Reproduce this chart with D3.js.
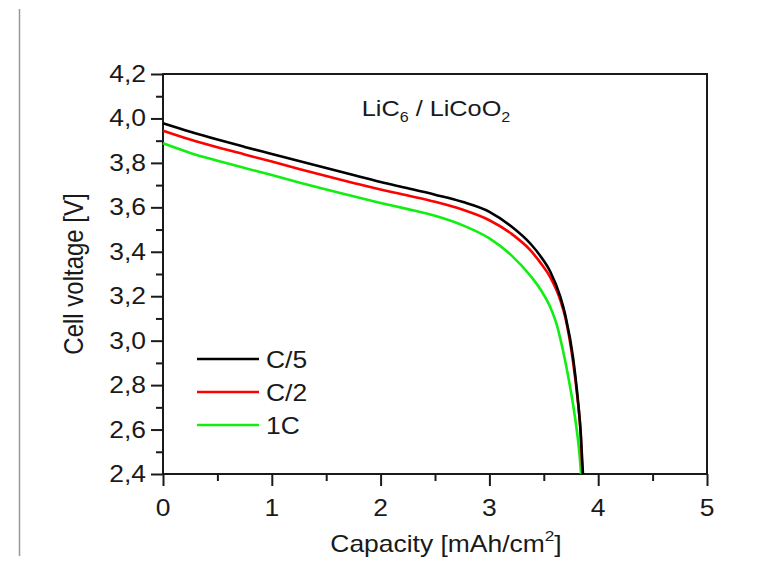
<!DOCTYPE html>
<html lang="en">
<head>
    <meta charset="UTF-8">
    <title>LiC6 / LiCoO2 discharge</title>
    <style>
        body {
            margin: 0;
            padding: 0;
            background-color: #fff;
            font-family: 'Liberation Sans', Arial, sans-serif;
        }
        .axis path, .axis line {
            stroke: #1a1a1a;
            stroke-width: 2px;
        }
        .lbl {
            fill: #1a1a1a;
        }
    </style>
    <script src="https://d3js.org/d3.v7.min.js"></script>
</head>
<body>
<div id="chart"></div>
<script>
    // capacity [mAh/cm2] vs cell voltage [V]
    const capC5 = [0, 0.25, 0.5, 0.75, 1.0, 1.25, 1.5, 1.75, 2.0, 2.25, 2.5, 2.75, 3.0, 3.2, 3.38, 3.47, 3.56, 3.65, 3.7, 3.77, 3.81, 3.84, 3.86];
    const voltC5 = [3.978, 3.94, 3.905, 3.872, 3.84, 3.808, 3.777, 3.745, 3.714, 3.686, 3.657, 3.625, 3.58, 3.515, 3.435, 3.38, 3.31, 3.2, 3.11, 2.92, 2.75, 2.58, 2.4];

    const capC2 = [0, 0.25, 0.5, 0.75, 1.0, 1.25, 1.5, 1.75, 2.0, 2.25, 2.5, 2.75, 3.0, 3.2, 3.38, 3.47, 3.56, 3.65, 3.7, 3.77, 3.81, 3.84, 3.855];
    const voltC2 = [3.945, 3.905, 3.87, 3.838, 3.806, 3.773, 3.741, 3.71, 3.68, 3.653, 3.625, 3.59, 3.542, 3.482, 3.405, 3.35, 3.285, 3.185, 3.1, 2.9, 2.74, 2.57, 2.4];

    const cap1C = [0, 0.25, 0.5, 0.75, 1.0, 1.25, 1.5, 1.75, 2.0, 2.25, 2.5, 2.75, 3.0, 3.2, 3.38, 3.47, 3.56, 3.62, 3.67, 3.72, 3.77, 3.81, 3.83, 3.842];
    const volt1C = [3.888, 3.845, 3.81, 3.777, 3.745, 3.712, 3.68, 3.65, 3.62, 3.592, 3.562, 3.52, 3.46, 3.385, 3.29, 3.23, 3.15, 3.07, 2.97, 2.85, 2.71, 2.57, 2.48, 2.4];

    const seriesNames = ["C/5", "C/2", "1C"];
    const seriesColors = ["#000000", "#ff0000", "#11ee11"];
    const xTicks = [0, 1, 2, 3, 4, 5];
    const yTicks = [2.4, 2.6, 2.8, 3.0, 3.2, 3.4, 3.6, 3.8, 4.0, 4.2];

    const series = [
        {name: seriesNames[0], color: seriesColors[0], pts: capC5.map((c, i) => [c, voltC5[i]])},
        {name: seriesNames[1], color: seriesColors[1], pts: capC2.map((c, i) => [c, voltC2[i]])},
        {name: seriesNames[2], color: seriesColors[2], pts: cap1C.map((c, i) => [c, volt1C[i]])}
    ];

    const width = 776, height = 564;
    const margin = {left: 163, top: 74, right: 69, bottom: 90};
    const w = width - margin.left - margin.right;
    const h = height - margin.top - margin.bottom;
    const fs = 23;       // base font size
    const sx = 1.15;     // the source figure is a bit stretched horizontally

    const svg = d3.select("#chart").append("svg")
        .attr("width", width)
        .attr("height", height);

    // grey rule on the left edge of the page
    svg.append("line")
        .attr("x1", 19.5).attr("x2", 19.5)
        .attr("y1", 9).attr("y2", 556)
        .attr("stroke", "#999")
        .attr("stroke-width", 1.5);

    const g = svg.append("g")
        .attr("transform", "translate(" + margin.left + "," + margin.top + ")");

    const x = d3.scaleLinear().domain([0, 5]).range([0, w]);
    const y = d3.scaleLinear().domain([2.4, 4.2]).range([h, 0]);

    // text placed at (px,py), stretched sideways around its anchor
    function stretchedText(parent, px, py, anchor, size) {
        return parent.append("text")
            .attr("class", "lbl")
            .attr("transform", "translate(" + px + "," + py + ") scale(" + sx + ",1)")
            .attr("text-anchor", anchor)
            .attr("font-size", size);
    }

    // minor ticks
    g.append("g")
        .attr("class", "axis")
        .attr("transform", "translate(0," + h + ")")
        .call(d3.axisBottom(x).tickValues(d3.range(0.5, 5, 1)).tickSize(7).tickFormat(""))
        .call(a => a.select(".domain").remove());
    g.append("g")
        .attr("class", "axis")
        .call(d3.axisLeft(y).tickValues(d3.range(2.5, 4.2, 0.2)).tickSize(7).tickFormat(""))
        .call(a => a.select(".domain").remove());

    // major ticks, labels drawn separately
    g.append("g")
        .attr("class", "axis")
        .attr("transform", "translate(0," + h + ")")
        .call(d3.axisBottom(x).tickValues(xTicks).tickSize(12).tickFormat(""))
        .call(a => a.select(".domain").remove());
    g.append("g")
        .attr("class", "axis")
        .call(d3.axisLeft(y).tickValues(yTicks).tickSize(12).tickFormat(""))
        .call(a => a.select(".domain").remove());

    xTicks.forEach(t => {
        stretchedText(g, x(t), h + 42, "middle", fs).text(d3.format("d")(t));
    });
    yTicks.forEach(t => {
        stretchedText(g, -17, y(t) + 8, "end", fs).text(d3.format(".1f")(t).replace(".", ","));
    });

    // frame
    g.append("rect")
        .attr("width", w).attr("height", h)
        .attr("fill", "none")
        .attr("stroke", "#1a1a1a")
        .attr("stroke-width", 2);

    const line = d3.line()
        .x(d => x(d[0]))
        .y(d => y(d[1]))
        .curve(d3.curveMonotoneX);

    // draw 1C first so black sits on top
    series.slice().reverse().forEach(s => {
        g.append("path")
            .attr("d", line(s.pts))
            .attr("fill", "none")
            .attr("stroke", s.color)
            .attr("stroke-width", 2.6);
    });

    // legend
    const legend = g.append("g").attr("transform", "translate(34,285)");
    series.forEach((s, i) => {
        legend.append("line")
            .attr("x1", 0).attr("x2", 62)
            .attr("y1", i * 33).attr("y2", i * 33)
            .attr("stroke", s.color)
            .attr("stroke-width", 2.6);
        stretchedText(legend, 69, i * 33 + 9, "start", fs).text(s.name);
    });

    // label inside plot
    const lbl = stretchedText(g, 273, 42, "middle", 22);
    lbl.append("tspan").text("LiC");
    lbl.append("tspan").attr("font-size", 14).attr("dy", 6).text("6");
    lbl.append("tspan").attr("dy", -6).text(" / LiCoO");
    lbl.append("tspan").attr("font-size", 14).attr("dy", 6).text("2");

    // axis titles
    const xt = stretchedText(svg, 446, 552, "middle", fs);
    xt.append("tspan").text("Capacity [mAh/cm");
    xt.append("tspan").attr("font-size", 15).attr("dy", -11).text("2");
    xt.append("tspan").attr("dy", 11).text("]");

    svg.append("text")
        .attr("class", "lbl")
        .attr("transform", "translate(83," + (margin.top + h / 2) + ") rotate(-90) scale(1," + sx + ")")
        .attr("text-anchor", "middle")
        .attr("font-size", 24)
        .text("Cell voltage [V]");
</script>
</body>
</html>
